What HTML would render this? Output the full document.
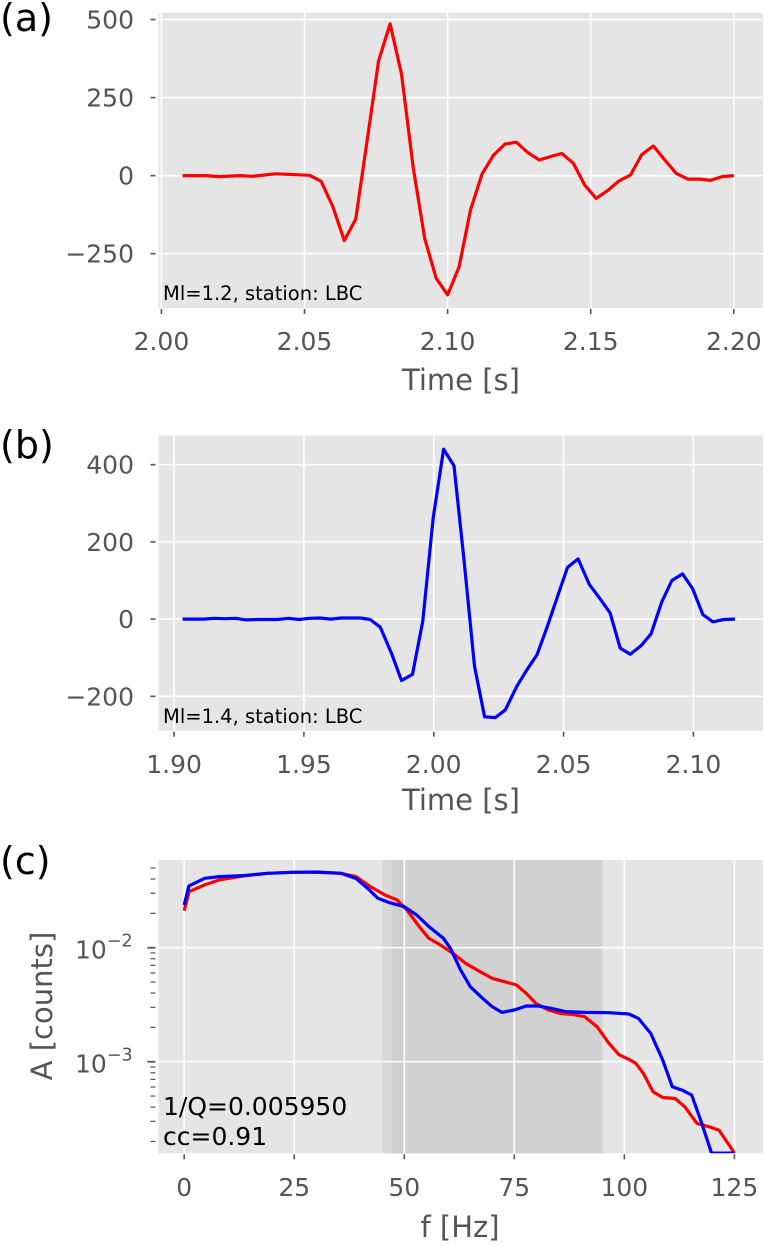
<!DOCTYPE html>
<html><head><meta charset="utf-8">
<style>
html,body{margin:0;padding:0;background:#fff;}
svg{display:block;font-family:"DejaVu Sans","Liberation Sans",sans-serif;}
</style></head>
<body>
<svg id="fig" width="764" height="1246" viewBox="0 0 764 1246" xmlns="http://www.w3.org/2000/svg">
<defs>
<clipPath id="clipC"><rect x="158.4" y="860" width="604.6" height="293.3"/></clipPath>
</defs>
</svg>
<script>
// ---------- Panel (a) data ----------
const timeA = [2.0074,2.0155,2.0200,2.0274,2.0318,2.0399,2.0473,2.0518,2.0558,2.0599,2.0639,2.0679,2.0719,2.0759,2.0799,2.0839,2.0880,2.0920,2.0960,2.1000,2.1040,2.1080,2.1120,2.1160,2.1200,2.1240,2.1280,2.1320,2.1359,2.1399,2.1439,2.1479,2.1519,2.1559,2.1599,2.1639,2.1679,2.1719,2.1759,2.1799,2.1839,2.1879,2.1919,2.1959,2.2000];
const ampA = [0,0,-3,0,-2,6,3,1,-18,-99,-208,-140,114,368,486,326,24,-201,-329,-382,-292,-110,5,65,101,107,74,50,61,71,40,-30,-73,-48,-17,2,68,95,50,7,-11,-11,-15,-3,0];
const xTicksA = [2.00,2.05,2.10,2.15,2.20];
const yTicksA = [500,250,0,-250];
// ---------- Panel (b) data ----------
const timeB = [1.9033,1.9073,1.9114,1.9155,1.9196,1.9237,1.9277,1.9318,1.9359,1.9400,1.9440,1.9481,1.9522,1.9563,1.9604,1.9644,1.9685,1.9718,1.9755,1.9794,1.9837,1.9876,1.9918,1.9958,1.9998,2.0038,2.0078,2.0117,2.0157,2.0196,2.0237,2.0276,2.0320,2.0359,2.0398,2.0437,2.0476,2.0515,2.0556,2.0599,2.0640,2.0679,2.0718,2.0757,2.0798,2.0837,2.0878,2.0917,2.0958,2.0997,2.1036,2.1075,2.1117,2.1160];
const ampB = [0,0,0,2,1,2,-2,-1,-1,-1,2,-1,2,3,0,3,3,3,-1,-21,-88,-159,-143,-5,262,440,397,151,-122,-253,-255,-235,-174,-131,-92,-20,57,134,156,90,53,16,-75,-91,-69,-38,44,100,117,79,12,-7,-1,0];
const xTicksB = [1.90,1.95,2.00,2.05,2.10];
const yTicksB = [400,200,0,-200];
// ---------- Panel (c) data ----------
const freqRed = [0,1.1,4.65,8,13.5,19,24.6,30,35.6,39,42.3,45.6,48.4,50.6,53.4,55.6,58.3,61.1,63.9,67.2,70,72.7,75.5,77.7,79.9,82.7,85.5,88.2,91,93.8,96.5,98.8,101,102.6,104.3,106.5,108.7,111.5,113.7,116.5,119.3,121.5,123.8,125];
const specRed = [0.0211,0.0310,0.0355,0.0393,0.0426,0.0449,0.0458,0.0458,0.0449,0.0420,0.0343,0.0290,0.0262,0.0214,0.0153,0.0121,0.0105,0.00891,0.00730,0.00617,0.00538,0.00504,0.00471,0.00398,0.00325,0.00284,0.00265,0.00260,0.00248,0.00203,0.00145,0.00115,0.00105,0.000966,0.000791,0.000546,0.000486,0.000476,0.000403,0.000288,0.000269,0.000251,0.000186,0.000158];
const freqBlue = [0,1.1,4.65,8,13.5,19,24.6,30,35.6,39,41.7,44,46.7,50,52.8,55.6,58.9,60.5,62.8,65,67.8,70,72.2,75,77.7,80.5,83.3,86.6,91,96.5,101,103.2,106,108.7,110.9,113.1,115.3,117.6,119.8,125];
const specBlue = [0.0237,0.0348,0.0406,0.0420,0.0429,0.0449,0.0458,0.0461,0.0449,0.0406,0.0331,0.0271,0.0248,0.0229,0.0194,0.0153,0.0121,0.00986,0.00637,0.00455,0.00360,0.00303,0.00271,0.00284,0.00308,0.00308,0.00294,0.00275,0.00271,0.00269,0.00262,0.00240,0.00177,0.00104,0.000604,0.000564,0.000511,0.000288,0.000158,0.000158];
const xTicksC = [0,25,50,75,100,125];
const yTicksC = [-2,-3];
const bandC = [45,95];

const NS = "http://www.w3.org/2000/svg";
const svg = document.getElementById('fig');
function mk(tag, attrs, parent, text) {
  const e = document.createElementNS(NS, tag);
  for (const k in attrs) e.setAttribute(k, attrs[k]);
  if (text !== undefined) e.textContent = text;
  (parent || svg).appendChild(e);
  return e;
}
function fmt(v, d) { const s = Math.abs(v).toFixed(d); return v < 0 ? "\u2212" + s : s; }

function linearPanel(cfg) {
  const g = mk('g', {});
  
  
  const L = cfg.L, R = cfg.R, T = cfg.T, B = cfg.B;
  const sx = v => L + (v - cfg.x0) / (cfg.x1 - cfg.x0) * (R - L);
  const sy = v => B - (v - cfg.y0) / (cfg.y1 - cfg.y0) * (B - T);
  const bg = mk('rect', {x:L, y:T, width:R-L, height:B-T, fill:'#e5e5e5'}, g);
  
  
  cfg.xTicks.forEach(t => {
    const x = sx(t);
    const gl = mk('line', {x1:x, x2:x, y1:T, y2:B, stroke:'#fff', 'stroke-width':1.6}, g);
    
    
    mk('line', {x1:x, x2:x, y1:B+1, y2:B+6, stroke:'#555', 'stroke-width':1.6}, g);
    const tl = mk('text', {x:x, y:cfg.xLabY, 'text-anchor':'middle', 'font-size':25, fill:'#555'}, g, t.toFixed(2));
    
    
  });
  cfg.yTicks.forEach(t => {
    const y = sy(t);
    const gl = mk('line', {x1:L, x2:R, y1:y, y2:y, stroke:'#fff', 'stroke-width':1.6}, g);
    
    
    mk('line', {x1:L-8, x2:L-3, y1:y, y2:y, stroke:'#555', 'stroke-width':1.6}, g);
    const tl = mk('text', {x:134, y:y+9, 'text-anchor':'end', 'font-size':25, fill:'#555'}, g, fmt(t, 0));
    
    
  });
  const pts = cfg.xs.map((v, i) => sx(v).toFixed(1) + ',' + sy(cfg.ys[i]).toFixed(1)).join(' ');
  const line = mk('polyline', {points:pts, fill:'none', stroke:cfg.color, 'stroke-width':3.2, 'stroke-linejoin':'round'}, g);
  
  
  const an = mk('text', {x:163, y:cfg.annY, 'font-size':19.5, fill:'#000'}, g, cfg.ann);
  
  
  const xl = mk('text', {x:cfg.xTitleX, y:cfg.xTitleY, 'text-anchor':'middle', 'font-size':29, fill:'#555'}, g, 'Time [s]');
  
  
  const pl = mk('text', {x:0, y:cfg.panY, 'font-size':38, fill:'#000'}, g, cfg.panel);
  
  
}

linearPanel({name:'panel-a', L:158.5, R:763, T:13, B:308, x0:1.99898, x1:2.2102, y0:-424, y1:521,
  xTicks:xTicksA, yTicks:yTicksA, xs:timeA, ys:ampA, color:'#ff0000', lineName:'waveform-red',
  xLabY:350, ann:'Ml=1.2, station: LBC', annY:300, xTitleX:461, xTitleY:390, panel:'(a)', panY:31});
linearPanel({name:'panel-b', L:158.5, R:763, T:435.7, B:730.7, x0:1.894, x1:2.1268, y0:-289, y1:475,
  xTicks:xTicksB, yTicks:yTicksB, xs:timeB, ys:ampB, color:'#0000ff', lineName:'waveform-blue',
  xLabY:773, ann:'Ml=1.4, station: LBC', annY:723, xTitleX:461, xTitleY:810, panel:'(b)', panY:458});

// ---------- Panel (c) ----------
(function(){
  const g = mk('g', {});
  
  
  const L = 158.4, R = 763, T = 860, B = 1153.3;
  const x0 = -5.86, x1 = 131.5, ly0 = -3.803, ly1 = -1.231;
  const sx = v => L + (v - x0) / (x1 - x0) * (R - L);
  const sy = a => B - (Math.log10(a) - ly0) / (ly1 - ly0) * (B - T);
  const syl = l => B - (l - ly0) / (ly1 - ly0) * (B - T);
  const bg = mk('rect', {x:L, y:T, width:R-L, height:B-T, fill:'#e5e5e5'}, g);
  
  
  const b1 = mk('rect', {x:sx(bandC[0]), y:T, width:sx(bandC[1])-sx(bandC[0]), height:B-T, fill:'#d9d9d9'}, g);
  
  
  mk('rect', {x:sx(47.2), y:T, width:sx(50)-sx(47.2), height:B-T, fill:'#cecece'}, g);
  mk('rect', {x:sx(50), y:T, width:sx(bandC[1])-sx(50), height:B-T, fill:'#d1d1d1'}, g);
  xTicksC.forEach(t => {
    const x = sx(t);
    const gl = mk('line', {x1:x, x2:x, y1:T, y2:B, stroke:'#fff', 'stroke-width':1.6}, g);
    
    
    mk('line', {x1:x, x2:x, y1:B+1, y2:B+6, stroke:'#555', 'stroke-width':1.6}, g);
    const tl = mk('text', {x:x, y:1196, 'text-anchor':'middle', 'font-size':25, fill:'#555'}, g, String(t));
    
    
  });
  yTicksC.forEach(p => {
    const y = syl(p);
    const gl = mk('line', {x1:L, x2:R, y1:y, y2:y, stroke:'#fff', 'stroke-width':1.6}, g);
    
    
    mk('line', {x1:L-11, x2:L-3, y1:y, y2:y, stroke:'#555', 'stroke-width':1.8}, g);
    const tl = mk('text', {x:75, y:y+11, 'font-size':25, fill:'#555'}, g);
    
    
    mk('tspan', {}, tl, '10');
    mk('tspan', {dy:-12, 'font-size':17.5}, tl, '\u2212' + (-p));
  });
  for (let d = -4; d <= -2; d++) {
    for (let m = 2; m <= 9; m++) {
      const l = d + Math.log10(m);
      if (l < ly0 || l > ly1) continue;
      const y = syl(l);
      mk('line', {x1:L-8, x2:L-3, y1:y, y2:y, stroke:'#555', 'stroke-width':1.2}, g);
    }
  }
  const cg = mk('g', {'clip-path':'url(#clipC)'}, g);
  const rp = freqRed.map((f, i) => sx(f).toFixed(1) + ',' + sy(specRed[i]).toFixed(1)).join(' ');
  const rl = mk('polyline', {points:rp, fill:'none', stroke:'#ff0000', 'stroke-width':3.2, 'stroke-linejoin':'round'}, cg);
  
  
  const bp = freqBlue.map((f, i) => sx(f).toFixed(1) + ',' + sy(specBlue[i]).toFixed(1)).join(' ');
  const bl = mk('polyline', {points:bp, fill:'none', stroke:'#0000ff', 'stroke-width':3.2, 'stroke-linejoin':'round'}, cg);
  
  
  const a1 = mk('text', {x:163, y:1115, 'font-size':25, fill:'#000'}, g, '1/Q=0.005950');
  
  
  const a2 = mk('text', {x:163, y:1145, 'font-size':25, fill:'#000'}, g, 'cc=0.91');
  
  
  const xl = mk('text', {x:460, y:1237, 'text-anchor':'middle', 'font-size':29, fill:'#555'}, g, 'f [Hz]');
  
  
  const yl = mk('text', {x:0, y:0, 'text-anchor':'middle', 'font-size':29, fill:'#555', transform:'translate(52,1006) rotate(-90)'}, g, 'A [counts]');
  
  
  const pl = mk('text', {x:0, y:874, 'font-size':38, fill:'#000'}, g, '(c)');
  
  
})();
</script>
</body></html>
